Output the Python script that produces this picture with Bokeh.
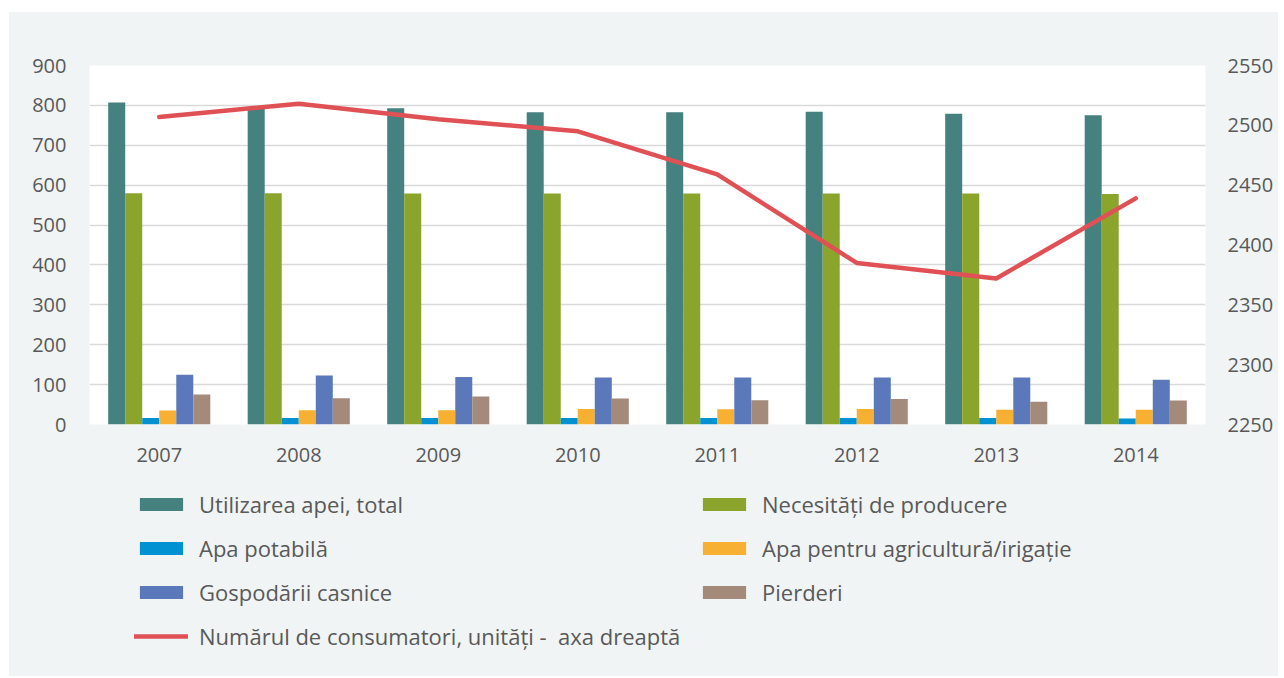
from bokeh.plotting import figure
from bokeh.layouts import column
from bokeh.models import (ColumnDataSource, FactorRange, Range1d, LinearAxis,
                          FixedTicker, Legend, LegendItem)
from bokeh.transform import dodge
from bokeh.embed import file_html
from bokeh.resources import INLINE

years = ["2007", "2008", "2009", "2010", "2011", "2012", "2013", "2014"]
total = [807, 792, 793, 783, 783, 784, 779, 775]
productie = [580, 580, 579, 579, 579, 579, 579, 578]
potabila = [16, 16, 16, 16, 16, 16, 16, 15]
agricultura = [35, 36, 36, 39, 38, 39, 37, 37]
gospodarii = [125, 123, 119, 118, 118, 118, 118, 112]
pierderi = [75, 66, 70, 65, 61, 64, 57, 60]
consumatori = [2507, 2518, 2505, 2495, 2459, 2385, 2372, 2439]

left_ticks = [0, 100, 200, 300, 400, 500, 600, 700, 800, 900]
right_ticks = [2250, 2300, 2350, 2400, 2450, 2500, 2550]

names = ["Utilizarea apei, total", "Necesități de producere", "Apa potabilă",
         "Apa pentru agricultură/irigație", "Gospodării casnice", "Pierderi"]
line_name = "Numărul de consumatori, unități -  axa dreaptă"
colors = ["#45817F", "#8BA52C", "#0091D3", "#F7B032", "#5B78BA", "#A38A7B"]
line_color = "#E05155"

FONT = "Open Sans"
TXT = "#595959"
BG = "#F0F4F5"

src = ColumnDataSource(dict(year=years, total=total, productie=productie,
                            potabila=potabila, agricultura=agricultura,
                            gospodarii=gospodarii, pierderi=pierderi,
                            consumatori=consumatori))

p = figure(x_range=FactorRange(*years), y_range=Range1d(0, 900),
           frame_width=1116, frame_height=359,
           min_border_left=80, min_border_right=73, min_border_top=53,
           min_border_bottom=56,
           output_backend="svg", toolbar_location=None,
           background_fill_color="white", border_fill_color=BG,
           outline_line_color=None)
p.extra_y_ranges = {"right": Range1d(2250, 2550)}

fields = ["total", "productie", "potabila", "agricultura", "gospodarii", "pierderi"]
w = 0.122
offsets = [-2.5 * w, -1.5 * w, -0.5 * w, 0.5 * w, 1.5 * w, 2.5 * w]
for f, c, off in zip(fields, colors, offsets):
    p.vbar(x=dodge("year", off, range=p.x_range), top=f, width=w,
           source=src, fill_color=c, line_color=None)

p.line(x="year", y="consumatori", source=src, y_range_name="right",
       line_color=line_color, line_width=4.5, line_cap="round",
       line_join="round")

for ax in (p.xaxis, p.yaxis):
    ax.axis_line_color = None
    ax.major_tick_line_color = None
    ax.minor_tick_line_color = None
    ax.major_tick_out = 0
    ax.major_tick_in = 0
    ax.major_label_text_font = FONT
    ax.major_label_text_font_size = "20px"
    ax.major_label_text_color = TXT
p.xaxis.major_label_standoff = 23
p.yaxis.ticker = FixedTicker(ticks=left_ticks)
p.yaxis.major_label_standoff = 23

ax2 = LinearAxis(y_range_name="right", ticker=FixedTicker(ticks=right_ticks),
                 axis_line_color=None, major_tick_line_color=None,
                 minor_tick_line_color=None, major_tick_out=0, major_tick_in=0,
                 major_label_text_font=FONT,
                 major_label_text_font_size="20px", major_label_text_color=TXT,
                 major_label_standoff=22)
p.add_layout(ax2, "right")

p.xgrid.grid_line_color = None
p.ygrid.ticker = FixedTicker(ticks=left_ticks)
p.ygrid.grid_line_color = "#D9D9D9"
p.ygrid.grid_line_width = 1.5

# legend panel: a second figure whose frame is aligned with the chart frame
q = figure(width=1269, height=196, x_range=Range1d(0, 1269),
           y_range=Range1d(0, 196), min_border=0,
           output_backend="svg", toolbar_location=None,
           background_fill_color=BG, border_fill_color=BG,
           outline_line_color=None)
q.axis.visible = False
q.grid.grid_line_color = None

# legend-key renderers (one off-screen sample each, only used for the keys)
key_src = ColumnDataSource(dict(x=[-50, -40], y=[-50, -50]))
legend_renderers = []
for c in colors:
    legend_renderers.append(q.vbar(x="x", top="y", width=1, source=key_src,
                                   fill_color=c, line_color=None))
legend_line = q.line(x="x", y="y", source=key_src, line_color=line_color,
                     line_width=4.5, line_cap="round")

items = [LegendItem(label=names[i], renderers=[legend_renderers[i]]) for i in range(6)]
items.append(LegendItem(label=line_name, renderers=[legend_line]))

legend = Legend(items=items, location=(45, 25), orientation="horizontal",
                ncols=2, glyph_width=54, glyph_height=16,
                label_height=24, label_width=484, spacing=14,
                label_standoff=11, padding=0, margin=0,
                label_text_font=FONT, label_text_font_size="22px",
                label_text_color=TXT, border_line_color=None,
                background_fill_alpha=0)
q.add_layout(legend, "center")

layout = column(p, q, spacing=0, margin=(12, 6, 2, 9),
                styles={"background-color": BG})
open("out.html", "w").write(file_html(layout, INLINE))
